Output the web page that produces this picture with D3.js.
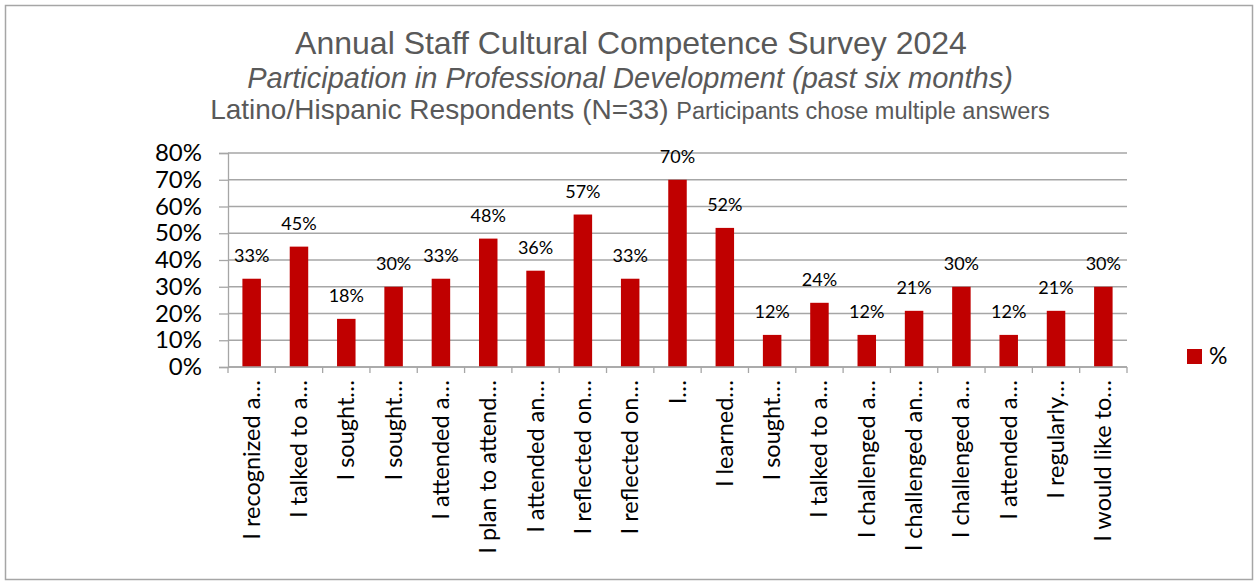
<!DOCTYPE html>
<html>
<head>
<meta charset="utf-8">
<script src="https://cdn.jsdelivr.net/npm/d3@7"></script>
<style>
  html, body { margin: 0; padding: 0; background: #fff; }
  svg { display: block; }
</style>
</head>
<body>
<svg id="chart" width="1254" height="581"></svg>
<script>
// Survey responses: share of respondents choosing each statement
const categories = [
  "I recognized a…", "I talked to a…", "I sought…", "I sought…", "I attended a…",
  "I plan to attend…", "I attended an…", "I reflected on…", "I reflected on…", "I…",
  "I learned…", "I sought…", "I talked to a…", "I challenged a…", "I challenged an…",
  "I challenged a…", "I attended a…", "I regularly…", "I would like to…"
];
const values = [33, 45, 18, 30, 33, 48, 36, 57, 33, 70, 52, 12, 24, 12, 21, 30, 12, 21, 30];
const yTicks = [0, 10, 20, 30, 40, 50, 60, 70, 80];
const seriesName = "%";

const svg = d3.select("#chart");
const W = 1254, H = 581;
const plot = { left: 228, right: 1127, top: 153, bottom: 367 };
const barColor = "#c00000";
const gridColor = "#a6a6a6";
const labelFont = "Lato, 'Open Sans', sans-serif";
const titleFont = "'Liberation Sans', Arial, sans-serif";

// Outer frame
svg.append("rect")
  .attr("x", 5.5).attr("y", 5.5)
  .attr("width", W - 7).attr("height", H - 7)
  .attr("fill", "#fff").attr("stroke", "#a6a6a6").attr("stroke-width", 1.5);

// Titles
svg.append("text")
  .attr("x", 631).attr("y", 54)
  .attr("text-anchor", "middle")
  .attr("font-family", titleFont).attr("font-size", 32).attr("fill", "#595959")
  .text("Annual Staff Cultural Competence Survey 2024");

svg.append("text")
  .attr("x", 630).attr("y", 88)
  .attr("text-anchor", "middle")
  .attr("font-family", titleFont).attr("font-size", 29).attr("font-style", "italic").attr("fill", "#595959")
  .text("Participation in Professional Development (past six months)");

const sub = svg.append("text")
  .attr("x", 630).attr("y", 119)
  .attr("text-anchor", "middle")
  .attr("font-family", titleFont).attr("fill", "#595959");
sub.append("tspan").attr("font-size", 28).text("Latino/Hispanic Respondents (N=33) ");
sub.append("tspan").attr("font-size", 23.5).text("Participants chose multiple answers");

// Scales
const x = d3.scaleBand()
  .domain(d3.range(categories.length))
  .range([plot.left, plot.right]);
const y = d3.scaleLinear().domain([0, 80]).range([plot.bottom, plot.top]);
const barWidth = 18.5;
const cx = i => x(i) + x.bandwidth() / 2;

// Horizontal gridlines
svg.append("g")
  .selectAll("line")
  .data(yTicks)
  .join("line")
  .attr("x1", plot.left).attr("x2", plot.right)
  .attr("y1", d => y(d)).attr("y2", d => y(d))
  .attr("stroke", gridColor).attr("stroke-width", 1.3);

// Y axis
const yAxis = svg.append("g")
  .attr("transform", `translate(${plot.left},0)`)
  .call(d3.axisLeft(y).tickValues(yTicks).tickFormat(d => d + "%").tickSize(9).tickPadding(17));
yAxis.select(".domain").attr("stroke", gridColor).attr("stroke-width", 1.3);
yAxis.selectAll(".tick line").attr("stroke", gridColor).attr("stroke-width", 1.3);
yAxis.selectAll(".tick text")
  .attr("font-family", labelFont).attr("font-size", 24).attr("fill", "#000");

// Bars
svg.append("g")
  .selectAll("rect")
  .data(values)
  .join("rect")
  .attr("x", (d, i) => cx(i) - barWidth / 2)
  .attr("width", barWidth)
  .attr("y", d => y(d))
  .attr("height", d => y(0) - y(d))
  .attr("fill", barColor);

// Value labels
svg.append("g")
  .selectAll("text")
  .data(values)
  .join("text")
  .attr("x", (d, i) => cx(i))
  .attr("y", d => y(d) - 17)
  .attr("text-anchor", "middle")
  .attr("font-family", labelFont).attr("font-size", 18).attr("fill", "#000")
  .text(d => d + "%");

// X axis
const xAxis = svg.append("g")
  .attr("transform", `translate(0,${plot.bottom})`);
xAxis.append("line")
  .attr("x1", plot.left).attr("x2", plot.right)
  .attr("stroke", gridColor).attr("stroke-width", 1.3);
xAxis.selectAll("line.tick")
  .data(d3.range(categories.length + 1))
  .join("line")
  .attr("class", "tick")
  .attr("x1", i => plot.left + i * x.step())
  .attr("x2", i => plot.left + i * x.step())
  .attr("y1", 0).attr("y2", 6)
  .attr("stroke", gridColor).attr("stroke-width", 1.3);
xAxis.selectAll("text")
  .data(categories)
  .join("text")
  .attr("transform", (d, i) => `translate(${cx(i) + 8},13) rotate(-90)`)
  .attr("text-anchor", "end")
  .attr("font-family", labelFont).attr("font-size", 23.5).attr("fill", "#000")
  .text(d => d);

// Legend
const legend = svg.append("g").attr("transform", "translate(1187,349)");
legend.append("rect").attr("width", 15).attr("height", 15).attr("fill", barColor);
legend.append("text")
  .attr("x", 22).attr("y", 15)
  .attr("font-family", labelFont).attr("font-size", 23).attr("fill", "#000")
  .text(seriesName);
</script>
</body>
</html>
